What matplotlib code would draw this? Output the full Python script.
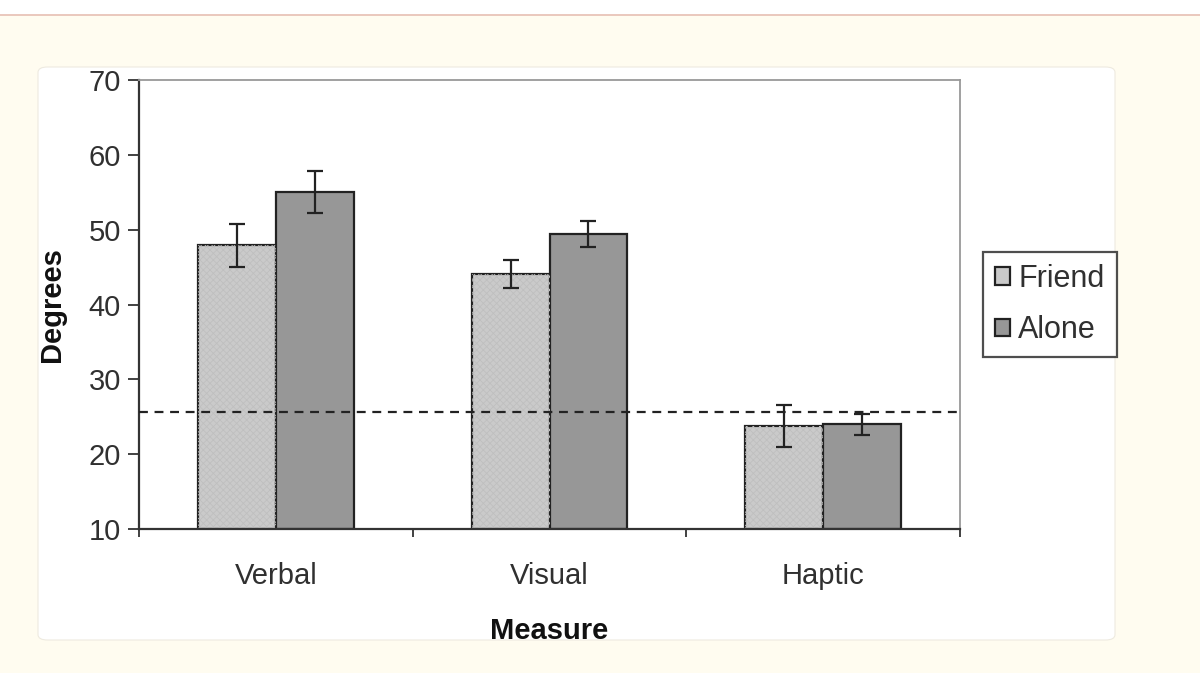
import numpy as np
import matplotlib.pyplot as plt
from matplotlib.patches import FancyBboxPatch, Rectangle

plt.rcParams['font.family'] = ['Liberation Sans', 'DejaVu Sans']
plt.rcParams['hatch.linewidth'] = 0.6

measures = ['Verbal', 'Visual', 'Haptic']
friend = [47.9, 44.1, 23.8]
alone = [55.0, 49.4, 24.0]
friend_err = [2.9, 1.9, 2.8]
alone_err = [2.8, 1.7, 1.4]
chance = 25.6

W, H = 1200, 673
fig = plt.figure(figsize=(12, 6.73), dpi=100)
fig.patch.set_facecolor('#fffcf0')

# white strip on top + thin pink rule
fig.patches.append(Rectangle((0, 1 - 15 / H), 1, 15 / H, transform=fig.transFigure,
                             facecolor='white', edgecolor='none', zorder=-2))
fig.add_artist(plt.Line2D([0, 1], [1 - 15 / H, 1 - 15 / H], color='#e6bfb3', lw=1.2,
                          zorder=-1))
# white card
fig.patches.append(FancyBboxPatch((38 / W, 1 - 640 / H), (1115 - 38) / W, (640 - 67) / H,
                                  boxstyle='round,pad=0,rounding_size=0.008',
                                  transform=fig.transFigure, facecolor='white',
                                  edgecolor='#eeeae0', lw=0.8, zorder=-2))

ax = fig.add_axes([139 / W, 1 - 529 / H, (960 - 139) / W, (529 - 80) / H])
ax.set_facecolor('white')

txt = '#303030'
x = np.arange(len(measures))
bw = 0.285
ax.bar(x - bw / 2, [f - 10 for f in friend], bw, bottom=10, color='#cacaca',
       edgecolor='#222222', linewidth=1.6, label='Friend', zorder=2)
# faint texture on the light bars
ax.bar(x - bw / 2, [f - 10 for f in friend], bw, bottom=10, color='none',
       edgecolor='#bfbfbf', linewidth=0, hatch='xxxxx', zorder=2.1)
ax.bar(x + bw / 2, [a - 10 for a in alone], bw, bottom=10, color='#979797',
       edgecolor='#222222', linewidth=1.6, label='Alone', zorder=2)
ax.errorbar(x - bw / 2, friend, yerr=friend_err, fmt='none', ecolor='#222222',
            elinewidth=1.6, capsize=5.5, capthick=1.6, zorder=3)
ax.errorbar(x + bw / 2, alone, yerr=alone_err, fmt='none', ecolor='#222222',
            elinewidth=1.6, capsize=5.5, capthick=1.6, zorder=3)
ax.axhline(chance, color='#222222', linestyle=(0, (4, 3)), lw=1.6, zorder=4)

ax.set_xlim(-0.5, 2.5)
ax.set_ylim(10, 70)
ax.set_yticks(range(10, 71, 10))
ax.set_xticks([-0.5, 0.5, 1.5, 2.5])
ax.set_xticklabels([])
ax.set_xticks(x, minor=True)
ax.set_xticklabels(measures, minor=True)
ax.tick_params(axis='x', which='minor', length=0, labelsize=21, labelcolor=txt, pad=24)
ax.tick_params(axis='x', which='major', direction='out', length=6, width=1.3, color='#333333')
ax.tick_params(axis='y', direction='out', length=8, width=1.3, color='#333333',
               labelsize=21, labelcolor=txt, pad=5)

for s in ['left', 'bottom']:
    ax.spines[s].set_color('#333333')
    ax.spines[s].set_linewidth(1.6)
for s in ['top', 'right']:
    ax.spines[s].set_color('#999999')
    ax.spines[s].set_linewidth(1.3)

ax.set_ylabel('Degrees', fontsize=21, fontweight='bold', color='#111111', labelpad=16)
ax.set_xlabel('Measure', fontsize=21, fontweight='bold', color='#111111', labelpad=19)

leg = ax.legend(loc='center left', bbox_to_anchor=(1.028, 0.5), fontsize=22,
                frameon=True, fancybox=False, edgecolor='#222222',
                handlelength=0.5, handleheight=0.5, handletextpad=0.25,
                borderpad=0.4, labelspacing=0.7, borderaxespad=0)
leg.get_frame().set_linewidth(1.6)
for t in leg.get_texts():
    t.set_color(txt)

fig.savefig('out.png', dpi=100, facecolor=fig.get_facecolor())
